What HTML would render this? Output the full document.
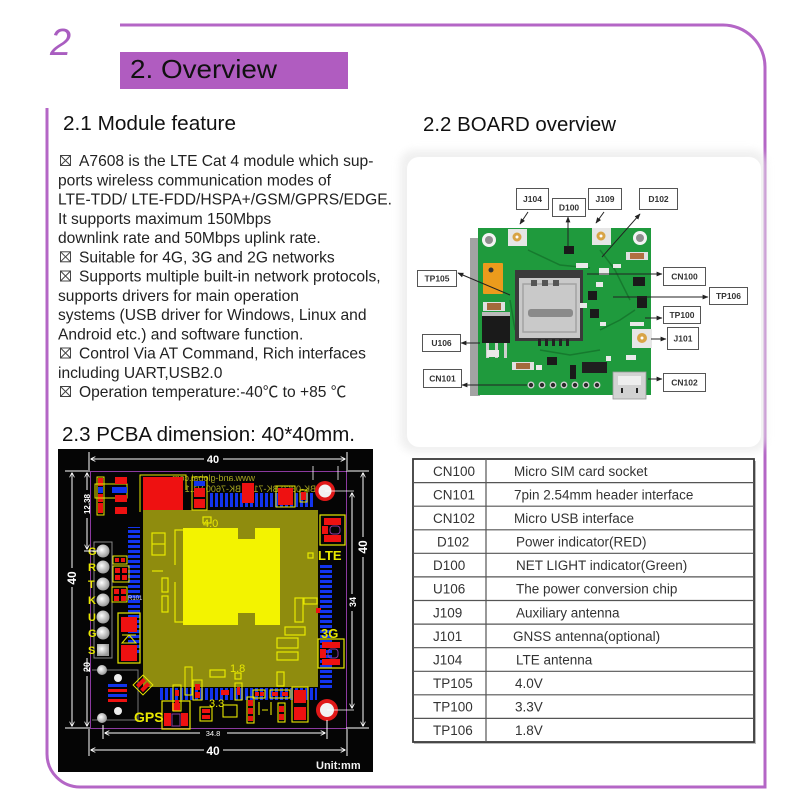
<!DOCTYPE html>
<html><head><meta charset="utf-8"><style>
html,body{margin:0;padding:0;background:#fff;}
svg{display:block;}
text{font-family:"Liberation Sans","Noto Sans CJK SC",sans-serif;}
</style></head><body>
<svg width="800" height="800" viewBox="0 0 800 800" xmlns="http://www.w3.org/2000/svg">
<defs>
<marker id="ah" viewBox="0 0 10 10" refX="9" refY="5" markerWidth="6" markerHeight="6" orient="auto-start-reverse"><path d="M0,1 L10,5 L0,9 z" fill="#222"/></marker>
<marker id="wa" viewBox="0 0 10 10" refX="9" refY="5" markerWidth="5" markerHeight="5" orient="auto-start-reverse"><path d="M0,0 L10,5 L0,10" fill="none" stroke="#fff" stroke-width="1.6"/></marker>
<pattern id="hb" width="20" height="5" patternUnits="userSpaceOnUse"><rect width="20" height="3" fill="#1234ee"/></pattern>
<pattern id="vb" width="5" height="20" patternUnits="userSpaceOnUse"><rect width="3" height="20" fill="#1234ee"/></pattern>
<radialGradient id="pin" cx="0.4" cy="0.4" r="0.6"><stop offset="0" stop-color="#ffffff"/><stop offset="1" stop-color="#9a9a9a"/></radialGradient>
<filter id="blur" x="-10%" y="-10%" width="120%" height="120%"><feGaussianBlur stdDeviation="4"/></filter>
</defs>

<!-- Header -->
<text x="50" y="55" font-size="38" font-style="italic" fill="#a95dc0">2</text>
<rect x="120" y="52" width="228" height="37" fill="#b05cc0"/>
<text x="130" y="78" font-size="26" fill="#111" textLength="147" lengthAdjust="spacingAndGlyphs">2. Overview</text>

<!-- Frame -->
<path d="M120 25 H723 A42 42 0 0 1 765 67 V787 H80 A33 33 0 0 1 47 754 V108" fill="none" stroke="#b466c6" stroke-width="3"/>

<!-- Headings -->
<text x="63" y="130" font-size="20.5" fill="#111" textLength="173" lengthAdjust="spacingAndGlyphs">2.1 Module feature</text>
<text x="423" y="131" font-size="20.5" fill="#111" textLength="193" lengthAdjust="spacingAndGlyphs">2.2 BOARD overview</text>
<text x="62" y="441" font-size="20.5" fill="#111" textLength="293" lengthAdjust="spacingAndGlyphs">2.3 PCBA dimension: 40*40mm.</text>

<!-- Body text -->
<g font-size="15.6" fill="#222">
<text x="79" y="166">A7608 is the LTE Cat 4 module which sup-</text>
<text x="58" y="185.3">ports wireless communication modes of</text>
<text x="58" y="204.5">LTE-TDD/ LTE-FDD/HSPA+/GSM/GPRS/EDGE.</text>
<text x="58" y="223.8">It supports maximum 150Mbps</text>
<text x="58" y="243">downlink rate and 50Mbps uplink rate.</text>
<text x="79" y="262.3">Suitable for 4G, 3G and 2G networks</text>
<text x="79" y="281.5">Supports multiple built-in network protocols,</text>
<text x="58" y="300.8">supports drivers for main operation</text>
<text x="58" y="320">systems (USB driver for Windows, Linux and</text>
<text x="58" y="339.3">Android etc.) and software function.</text>
<text x="79" y="358.5">Control Via AT Command, Rich interfaces</text>
<text x="58" y="377.8">including UART,USB2.0</text>
<text x="79" y="397">Operation temperature:-40℃ to +85 ℃</text>
</g>
<g fill="none" stroke="#444" stroke-width="1">
<rect x="60.5" y="155.5" width="10" height="10"/><path d="M60.5 155.5 L70.5 165.5 M70.5 155.5 L60.5 165.5"/>
<rect x="60.5" y="251.8" width="10" height="10"/><path d="M60.5 251.8 L70.5 261.8 M70.5 251.8 L60.5 261.8"/>
<rect x="60.5" y="271" width="10" height="10"/><path d="M60.5 271 L70.5 281 M70.5 271 L60.5 281"/>
<rect x="60.5" y="348" width="10" height="10"/><path d="M60.5 348 L70.5 358 M70.5 348 L60.5 358"/>
<rect x="60.5" y="386.5" width="10" height="10"/><path d="M60.5 386.5 L70.5 396.5 M70.5 386.5 L60.5 396.5"/>
</g>

<!-- Board overview panel -->
<rect x="400" y="150" width="366" height="302" rx="14" fill="#ececec" filter="url(#blur)" opacity="0.8"/>
<rect x="407" y="157" width="354" height="290" rx="12" fill="#fff"/>

<!-- green board -->
<rect x="470" y="238" width="10" height="158" fill="#333" opacity="0.45"/>
<rect x="478" y="228" width="173" height="167" fill="#1f9a3d"/>
<g fill="none" stroke="#167a2e" stroke-width="1.5">
<path d="M528 250 L560 265 L590 268"/><path d="M600 250 L615 270 L630 300"/><path d="M600 330 L620 320 L635 310"/><path d="M540 350 L570 355 L600 350"/><path d="M510 300 L515 330"/>
</g>
<circle cx="489" cy="240" r="7" fill="#f2f2f2"/><circle cx="489" cy="240" r="4" fill="#8d8d8d"/>
<circle cx="640" cy="238" r="7" fill="#f2f2f2"/><circle cx="640" cy="238" r="4" fill="#8d8d8d"/>
<rect x="508" y="229" width="19" height="17" fill="#e6e6e6"/><circle cx="517" cy="237" r="4.5" fill="#d8a446"/><circle cx="517" cy="237" r="1.5" fill="#fff"/>
<rect x="592" y="228" width="19" height="17" fill="#e6e6e6"/><circle cx="601" cy="236" r="4.5" fill="#d8a446"/><circle cx="601" cy="236" r="1.5" fill="#fff"/>
<rect x="632" y="329" width="20" height="19" fill="#e6e6e6"/><circle cx="642" cy="338" r="5" fill="#d8a446"/><circle cx="642" cy="338" r="1.5" fill="#fff"/>
<rect x="483" y="263" width="20" height="31" rx="1" fill="#eb9b1c"/><circle cx="491" cy="270" r="2.5" fill="#333"/>
<rect x="515" y="270" width="68" height="71" fill="#3a3a3a"/>
<rect x="519" y="278" width="61" height="60" fill="#c9c9c9"/>
<rect x="523" y="284" width="53" height="48" fill="none" stroke="#a3a3a3" stroke-width="1.5"/>
<rect x="531" y="280" width="6" height="6" fill="#555"/><rect x="542" y="280" width="6" height="6" fill="#555"/><rect x="553" y="280" width="6" height="6" fill="#555"/>
<rect x="528" y="309" width="45" height="8" rx="3" fill="#8a8a8a"/>
<g fill="#222"><rect x="538" y="339" width="3" height="7"/><rect x="545" y="339" width="3" height="7"/><rect x="552" y="339" width="3" height="7"/><rect x="559" y="339" width="3" height="7"/><rect x="566" y="339" width="3" height="7"/></g>
<rect x="482" y="312" width="28" height="5" fill="#bbb"/>
<rect x="482" y="316" width="28" height="27" fill="#1a1a1a"/>
<g fill="#cfcfcf"><rect x="486" y="343" width="3" height="15"/><rect x="495" y="343" width="3" height="15"/><rect x="504" y="343" width="3" height="15"/></g>
<rect x="483" y="302" width="22" height="9" fill="#e0e0e0"/><rect x="487" y="303" width="14" height="7" fill="#a36a3c"/>
<rect x="512" y="362" width="22" height="8" fill="#e0e0e0"/><rect x="516" y="363" width="14" height="6" fill="#a36a3c"/>
<rect x="626" y="252" width="22" height="8" fill="#e0e0e0"/><rect x="630" y="253" width="14" height="6" fill="#b07040"/>
<rect x="582" y="362" width="25" height="11" fill="#1f1f1f"/>
<rect x="613" y="372" width="33" height="27" fill="#d2d2d2" stroke="#999" stroke-width="0.8"/>
<rect x="618" y="376" width="23" height="9" fill="#eee"/>
<rect x="621" y="388" width="2" height="5" fill="#222"/><rect x="636" y="388" width="2" height="5" fill="#222"/>
<g fill="#2a2a2a" stroke="#cfcfcf" stroke-width="1.3">
<circle cx="531" cy="385" r="2.8"/><circle cx="542" cy="385" r="2.8"/><circle cx="553" cy="385" r="2.8"/><circle cx="564" cy="385" r="2.8"/><circle cx="575" cy="385" r="2.8"/><circle cx="586" cy="385" r="2.8"/><circle cx="597" cy="385" r="2.8"/>
</g>
<g fill="#1a1a1a">
<rect x="564" y="246" width="10" height="8"/><rect x="633" y="277" width="12" height="9"/><rect x="637" y="296" width="10" height="12"/><rect x="588" y="291" width="9" height="9"/><rect x="590" y="309" width="9" height="9"/><rect x="547" y="357" width="10" height="8"/><rect x="570" y="365" width="6" height="14"/>
</g>
<g fill="#e9e9e9">
<rect x="599" y="268" width="10" height="7"/><rect x="576" y="263" width="12" height="5"/><rect x="630" y="322" width="14" height="4"/><rect x="487" y="350" width="12" height="7"/><rect x="613" y="264" width="8" height="4"/><rect x="596" y="282" width="7" height="5"/><rect x="580" y="303" width="7" height="5"/><rect x="600" y="322" width="6" height="4"/><rect x="536" y="365" width="6" height="5"/><rect x="606" y="356" width="5" height="5"/><rect x="626" y="355" width="10" height="5"/>
</g>

<!-- labels -->
<g fill="#fff" stroke="#555" stroke-width="1">
<rect x="516.5" y="188.5" width="32" height="21"/>
<rect x="552.5" y="198.5" width="33" height="18"/>
<rect x="588.5" y="188.5" width="33" height="21"/>
<rect x="639.5" y="188.5" width="38" height="21"/>
<rect x="417.5" y="270.5" width="39" height="16"/>
<rect x="663.5" y="267.5" width="42" height="18"/>
<rect x="709.5" y="287.5" width="38" height="17"/>
<rect x="663.5" y="306.5" width="37" height="17"/>
<rect x="667.5" y="327.5" width="31" height="22"/>
<rect x="422.5" y="334.5" width="38" height="17"/>
<rect x="423.5" y="369.5" width="38" height="18"/>
<rect x="663.5" y="373.5" width="42" height="18"/>
</g>
<g font-size="8.5" fill="#333" text-anchor="middle" font-weight="bold">
<text x="532.5" y="202">J104</text>
<text x="569" y="210.5">D100</text>
<text x="605" y="202">J109</text>
<text x="658.5" y="202">D102</text>
<text x="437" y="281.5">TP105</text>
<text x="684.5" y="279.5">CN100</text>
<text x="728.5" y="299">TP106</text>
<text x="682" y="318">TP100</text>
<text x="683" y="341.5">J101</text>
<text x="441.5" y="346">U106</text>
<text x="442.5" y="381.5">CN101</text>
<text x="684.5" y="385.5">CN102</text>
</g>
<g stroke="#222" stroke-width="1" fill="none">
<line x1="528" y1="212" x2="520" y2="224" marker-end="url(#ah)"/>
<line x1="604" y1="212" x2="596" y2="223" marker-end="url(#ah)"/>
<line x1="568" y1="247" x2="568" y2="217" marker-end="url(#ah)"/>
<line x1="602" y1="257" x2="640" y2="214" marker-end="url(#ah)"/>
<line x1="510" y1="295" x2="458" y2="273" marker-end="url(#ah)"/>
<line x1="587" y1="274" x2="662" y2="274" marker-end="url(#ah)"/>
<line x1="613" y1="297" x2="708" y2="297" marker-end="url(#ah)"/>
<line x1="645" y1="318" x2="662" y2="318" marker-end="url(#ah)"/>
<line x1="651" y1="339" x2="666" y2="339" marker-end="url(#ah)"/>
<line x1="480" y1="343" x2="461" y2="343" marker-end="url(#ah)"/>
<line x1="527" y1="385" x2="462" y2="385" marker-end="url(#ah)"/>
<line x1="648" y1="379" x2="662" y2="379" marker-end="url(#ah)"/>
</g>

<!-- Table -->
<rect x="414" y="461" width="342" height="283" fill="#bbb"/>
<rect x="413" y="459" width="341" height="283" fill="#fff" stroke="#3a3a3a" stroke-width="1.8"/>
<g stroke="#555" stroke-width="1.2">
<line x1="486" y1="459" x2="486" y2="742"/>
<line x1="413" y1="482.6" x2="754" y2="482.6"/>
<line x1="413" y1="506.2" x2="754" y2="506.2"/>
<line x1="413" y1="529.8" x2="754" y2="529.8"/>
<line x1="413" y1="553.3" x2="754" y2="553.3"/>
<line x1="413" y1="576.9" x2="754" y2="576.9"/>
<line x1="413" y1="600.5" x2="754" y2="600.5"/>
<line x1="413" y1="624.1" x2="754" y2="624.1"/>
<line x1="413" y1="647.7" x2="754" y2="647.7"/>
<line x1="413" y1="671.3" x2="754" y2="671.3"/>
<line x1="413" y1="694.8" x2="754" y2="694.8"/>
<line x1="413" y1="718.4" x2="754" y2="718.4"/>
</g>
<g font-size="13.5" fill="#333">
<text x="433" y="475.8">CN100</text><text x="514" y="475.8">Micro SIM card socket</text>
<text x="433" y="499.4">CN101</text><text x="514" y="499.4">7pin 2.54mm header interface</text>
<text x="433" y="523">CN102</text><text x="514" y="523">Micro USB interface</text>
<text x="437" y="546.5">D102</text><text x="516" y="546.5">Power indicator(RED)</text>
<text x="433" y="570.1">D100</text><text x="516" y="570.1">NET LIGHT indicator(Green)</text>
<text x="433" y="593.7">U106</text><text x="516" y="593.7">The power conversion chip</text>
<text x="433" y="617.3">J109</text><text x="516" y="617.3">Auxiliary antenna</text>
<text x="433" y="640.9">J101</text><text x="513" y="640.9">GNSS antenna(optional)</text>
<text x="433" y="664.5">J104</text><text x="516" y="664.5">LTE antenna</text>
<text x="433" y="688">TP105</text><text x="515" y="688">4.0V</text>
<text x="433" y="711.6">TP100</text><text x="515" y="711.6">3.3V</text>
<text x="433" y="735.2">TP106</text><text x="515" y="735.2">1.8V</text>
</g>

<!-- PCBA image -->
<rect x="58" y="449" width="315" height="323" fill="#050505"/>
<rect x="90.5" y="471.5" width="256" height="257" fill="none" stroke="#8c3aa0" stroke-width="1"/>
<!-- olive module -->
<rect x="143" y="510" width="175" height="177" fill="#8f8c0e"/>
<rect x="183" y="528" width="97" height="97" fill="#f3f300"/>
<rect x="238" y="528" width="17" height="11" fill="#8f8c0e"/>
<rect x="238" y="613" width="17" height="12" fill="#8f8c0e"/>
<g fill="none" stroke="#e8e800" stroke-width="1.2">
<path d="M183 530 H175 V565"/><path d="M175 582 V622 H183"/>
<rect x="152" y="533" width="13" height="22"/><line x1="152" y1="544" x2="165" y2="544"/>
<line x1="152" y1="571" x2="163" y2="571"/>
<rect x="162" y="578" width="6" height="14"/><rect x="162" y="596" width="6" height="16"/>
<rect x="295" y="598" width="8" height="24"/><rect x="285" y="627" width="20" height="8"/>
<rect x="277" y="638" width="21" height="10"/><rect x="277" y="652" width="21" height="8"/>
<rect x="304" y="598" width="13" height="6"/><rect x="308" y="553" width="5" height="5"/>
<rect x="210" y="670" width="15" height="7"/><rect x="235" y="673" width="6" height="6"/><rect x="277" y="672" width="7" height="14"/>
<rect x="203" y="517" width="8" height="6"/>
</g>
<rect x="316" y="608" width="5" height="5" fill="#ee1111"/>
<!-- blue strips -->
<rect x="128" y="527" width="12" height="126" fill="url(#hb)"/>
<rect x="210" y="493" width="103" height="14" fill="url(#vb)"/>
<rect x="320" y="563" width="12" height="125" fill="url(#hb)"/>
<rect x="160" y="688" width="157" height="12" fill="url(#vb)"/>
<!-- mirrored silkscreen -->
<text transform="translate(255,481) scale(-1,1)" font-size="9" fill="#a8a620">www.and-global.com</text>
<text transform="translate(316,492) scale(-1,1)" font-size="9" fill="#a8a620">BK-0360 BK-7100 BK-7600 V1.1</text>
<!-- top components -->
<rect x="97" y="477" width="7" height="38" fill="none" stroke="#e8e800"/>
<rect x="98" y="478" width="5" height="8" fill="#ee1111"/><rect x="98" y="487" width="5" height="6" fill="#1234ee"/><rect x="98" y="494" width="5" height="8" fill="#ee1111"/><rect x="98" y="503" width="5" height="10" fill="#ee1111"/>
<rect x="95" y="484" width="32" height="14" fill="none" stroke="#e8e800"/>
<rect x="115" y="477" width="12" height="7" fill="#ee1111"/><rect x="112" y="487" width="15" height="6" fill="#1234ee"/><rect x="115" y="495" width="12" height="7" fill="#ee1111"/><rect x="115" y="507" width="12" height="7" fill="#ee1111"/>
<rect x="143" y="477" width="40" height="33" fill="#ee1111"/>
<path d="M140 512 V475 H186 V490" fill="none" stroke="#e8e800"/>
<rect x="192" y="477" width="15" height="33" fill="none" stroke="#e8e800"/>
<rect x="194" y="481" width="11" height="5" fill="#1234ee"/><rect x="194" y="488" width="11" height="9" fill="#ee1111"/><rect x="194" y="499" width="11" height="9" fill="#ee1111"/>
<rect x="242" y="483" width="12" height="20" fill="#ee1111"/>
<rect x="276" y="486" width="19" height="21" fill="none" stroke="#e8e800"/>
<rect x="278" y="488" width="15" height="17" fill="#ee1111"/>
<rect x="300" y="490" width="7" height="12" fill="none" stroke="#e8e800"/><rect x="301" y="492" width="5" height="8" fill="#ee1111"/>
<!-- LTE component -->
<rect x="320" y="515" width="25" height="30" fill="none" stroke="#e8e800" stroke-width="1.2"/>
<rect x="324" y="518" width="17" height="7" fill="#ee1111"/><rect x="324" y="535" width="17" height="7" fill="#ee1111"/><rect x="322" y="526" width="6" height="8" fill="#ee1111"/>
<rect x="330" y="526" width="10" height="8" rx="3" fill="none" stroke="#8c3aa0"/>
<text x="318" y="560" font-size="13" font-weight="bold" fill="#e8e800">LTE</text>
<!-- 3G component -->
<text x="321" y="638" font-size="13" font-weight="bold" fill="#e8e800">3G</text>
<rect x="318" y="639" width="26" height="29" fill="none" stroke="#e8e800" stroke-width="1.2"/>
<rect x="322" y="642" width="18" height="6" fill="#ee1111"/><rect x="322" y="659" width="18" height="6" fill="#ee1111"/><rect x="320" y="649" width="6" height="9" fill="#ee1111"/>
<rect x="328" y="649" width="10" height="9" rx="3" fill="none" stroke="#8c3aa0"/>
<!-- mounting holes -->
<circle cx="325" cy="491" r="10" fill="#e01818"/><circle cx="325" cy="491" r="6.5" fill="#f2f2f2"/>
<circle cx="327" cy="710" r="11" fill="#e01818"/><circle cx="327" cy="710" r="7" fill="#f2f2f2"/>
<g stroke="#fff" stroke-width="0.8"><line x1="325" y1="491" x2="354" y2="491"/><line x1="327" y1="710" x2="354" y2="710"/>
<line x1="313" y1="466" x2="313" y2="480"/><line x1="338" y1="466" x2="338" y2="480"/></g>
<!-- left pin header -->
<rect x="94" y="542" width="18" height="116" fill="none" stroke="#888" stroke-width="1"/>
<g fill="url(#pin)">
<circle cx="103" cy="551" r="6.5"/><circle cx="103" cy="567" r="6.5"/><circle cx="103" cy="584" r="6.5"/><circle cx="103" cy="600" r="6.5"/><circle cx="103" cy="617" r="6.5"/><circle cx="103" cy="633" r="6.5"/>
<rect x="97" y="644" width="12" height="12"/>
</g>
<g font-size="11" font-weight="bold" fill="#e8e800">
<text x="88" y="555">G</text><text x="88" y="571">R</text><text x="88" y="588">T</text><text x="88" y="604">K</text><text x="88" y="621">U</text><text x="88" y="637">G</text><text x="88" y="654">S</text>
</g>
<rect x="113" y="556" width="14" height="8" fill="none" stroke="#e8e800"/><rect x="115" y="558" width="4" height="4" fill="#ee1111"/><rect x="121" y="558" width="4" height="4" fill="#ee1111"/>
<rect x="113" y="566" width="16" height="16" fill="none" stroke="#e8e800"/>
<rect x="115" y="568" width="5" height="5" fill="#ee1111"/><rect x="122" y="568" width="5" height="5" fill="#ee1111"/><rect x="115" y="575" width="5" height="5" fill="#ee1111"/><rect x="122" y="575" width="5" height="5" fill="#ee1111"/>
<rect x="112" y="587" width="15" height="15" fill="none" stroke="#e8e800"/>
<rect x="114" y="589" width="5" height="5" fill="#ee1111"/><rect x="121" y="589" width="5" height="5" fill="#ee1111"/><rect x="114" y="596" width="5" height="5" fill="#ee1111"/><rect x="121" y="596" width="5" height="5" fill="#ee1111"/>
<text x="128" y="600" font-size="6" fill="#ddd">R101</text>
<!-- diode -->
<rect x="118" y="613" width="22" height="50" fill="none" stroke="#e8e800" stroke-width="1.2"/>
<rect x="121" y="617" width="16" height="15" fill="#ee1111"/><rect x="121" y="645" width="16" height="16" fill="#ee1111"/>
<path d="M122 643 L129 635 L136 643 Z M122 635 H136" fill="none" stroke="#e8e800"/>
<!-- lower left -->
<path d="M92 670 H138 V720 H92" fill="none" stroke="#777" stroke-width="1"/>
<circle cx="102" cy="670" r="5" fill="url(#pin)"/><circle cx="102" cy="718" r="5" fill="url(#pin)"/>
<circle cx="118" cy="678" r="4" fill="#eee"/><circle cx="118" cy="711" r="4" fill="#eee"/>
<rect x="108" y="684" width="19" height="3" fill="#1234ee"/><rect x="108" y="689" width="19" height="3" fill="#ee1111"/><rect x="108" y="694" width="19" height="3" fill="#1234ee"/><rect x="108" y="699" width="19" height="3" fill="#ee1111"/>
<g transform="translate(143,685) rotate(45)"><rect x="-7" y="-7" width="14" height="14" fill="none" stroke="#e8e800"/><rect x="-5" y="-5" width="4" height="10" fill="#ee1111"/><rect x="1" y="-5" width="4" height="10" fill="#ee1111"/></g>
<!-- bottom components -->
<text x="134" y="722" font-size="14" font-weight="bold" fill="#e8e800">GPS</text>
<rect x="162" y="701" width="28" height="28" fill="none" stroke="#e8e800" stroke-width="1.2"/>
<rect x="172" y="703" width="8" height="8" fill="#ee1111"/><rect x="164" y="713" width="7" height="13" fill="#ee1111"/><rect x="181" y="713" width="7" height="13" fill="#ee1111"/>
<rect x="172" y="714" width="8" height="12" fill="none" stroke="#8c3aa0"/>
<g fill="none" stroke="#e8e800" stroke-width="1.1">
<rect x="173" y="685" width="8" height="26"/><rect x="185" y="667" width="7" height="28"/><rect x="193" y="680" width="9" height="20"/>
<rect x="200" y="707" width="12" height="14"/><rect x="223" y="705" width="14" height="12"/><rect x="235" y="683" width="7" height="17"/>
<rect x="247" y="697" width="7" height="26"/><rect x="253" y="690" width="12" height="8"/><rect x="270" y="690" width="20" height="8"/>
<path d="M259 702 V715 M271 702 V715 M262 710 H268"/><rect x="278" y="703" width="7" height="19"/>
<rect x="292" y="687" width="16" height="35"/>
</g>
<g fill="#ee1111">
<rect x="175" y="690" width="4" height="6"/><rect x="175" y="700" width="4" height="6"/><rect x="195" y="684" width="5" height="6"/><rect x="195" y="692" width="5" height="6"/>
<rect x="202" y="709" width="8" height="4"/><rect x="202" y="715" width="8" height="4"/><rect x="237" y="687" width="3" height="8"/>
<rect x="248" y="700" width="5" height="6"/><rect x="248" y="708" width="5" height="6"/><rect x="248" y="716" width="5" height="5"/>
<rect x="255" y="692" width="4" height="4"/><rect x="260" y="692" width="4" height="4"/><rect x="272" y="692" width="6" height="4"/><rect x="282" y="692" width="6" height="4"/>
<rect x="279" y="706" width="5" height="6"/><rect x="279" y="714" width="5" height="6"/>
<rect x="294" y="690" width="12" height="13"/><rect x="294" y="707" width="12" height="13"/>
<rect x="221" y="690" width="8" height="5"/>
</g>
<g font-size="11" fill="#e8e800"><text x="230" y="672">1.8</text><text x="209" y="707">3.3</text><text x="203" y="527">4.0</text></g>
<!-- dimension lines -->
<g stroke="#fff" stroke-width="1" fill="none">
<line x1="91" y1="459" x2="204" y2="459" marker-start="url(#wa)"/><line x1="223" y1="459" x2="345" y2="459" marker-end="url(#wa)"/>
<line x1="89" y1="452" x2="89" y2="470"/><line x1="347" y1="452" x2="347" y2="470"/>
<line x1="91" y1="750" x2="204" y2="750" marker-start="url(#wa)"/><line x1="223" y1="750" x2="345" y2="750" marker-end="url(#wa)"/>
<line x1="89" y1="729" x2="89" y2="756"/><line x1="347" y1="729" x2="347" y2="756"/>
<line x1="105" y1="733" x2="200" y2="733" marker-start="url(#wa)"/><line x1="227" y1="733" x2="325" y2="733" marker-end="url(#wa)"/>
<line x1="103" y1="725" x2="103" y2="739"/><line x1="327" y1="720" x2="327" y2="739"/>
<line x1="72" y1="473" x2="72" y2="568" marker-start="url(#wa)"/><line x1="72" y1="587" x2="72" y2="726" marker-end="url(#wa)"/>
<line x1="65" y1="471" x2="90" y2="471"/><line x1="65" y1="728" x2="90" y2="728"/>
<line x1="87" y1="473" x2="87" y2="490" marker-start="url(#wa)"/><line x1="87" y1="518" x2="87" y2="549" marker-end="url(#wa)"/>
<line x1="84" y1="551" x2="98" y2="551"/>
<line x1="87" y1="672" x2="87" y2="658"/><line x1="87" y1="676" x2="87" y2="726" marker-end="url(#wa)"/>
<line x1="363" y1="473" x2="363" y2="537" marker-start="url(#wa)"/><line x1="363" y1="557" x2="363" y2="726" marker-end="url(#wa)"/>
<line x1="346" y1="471" x2="369" y2="471"/><line x1="346" y1="728" x2="369" y2="728"/>
<line x1="352" y1="493" x2="352" y2="594" marker-start="url(#wa)"/><line x1="352" y1="611" x2="352" y2="708" marker-end="url(#wa)"/>
</g>
<g fill="#fff" font-weight="bold" text-anchor="middle">
<text x="213" y="463" font-size="11">40</text>
<text x="213" y="755" font-size="12">40</text>
<text x="213" y="736" font-size="7.5" font-weight="normal">34.8</text>
<text transform="translate(76,578) rotate(-90)" font-size="12">40</text>
<text transform="translate(90,504) rotate(-90)" font-size="8">12.38</text>
<text transform="translate(90,667) rotate(-90)" font-size="9">20</text>
<text transform="translate(367,547) rotate(-90)" font-size="12">40</text>
<text transform="translate(356,602) rotate(-90)" font-size="9">34</text>
</g>
<text x="316" y="769" font-size="11" font-weight="bold" fill="#f2f2f2">Unit:mm</text>
</svg>
</body></html>
